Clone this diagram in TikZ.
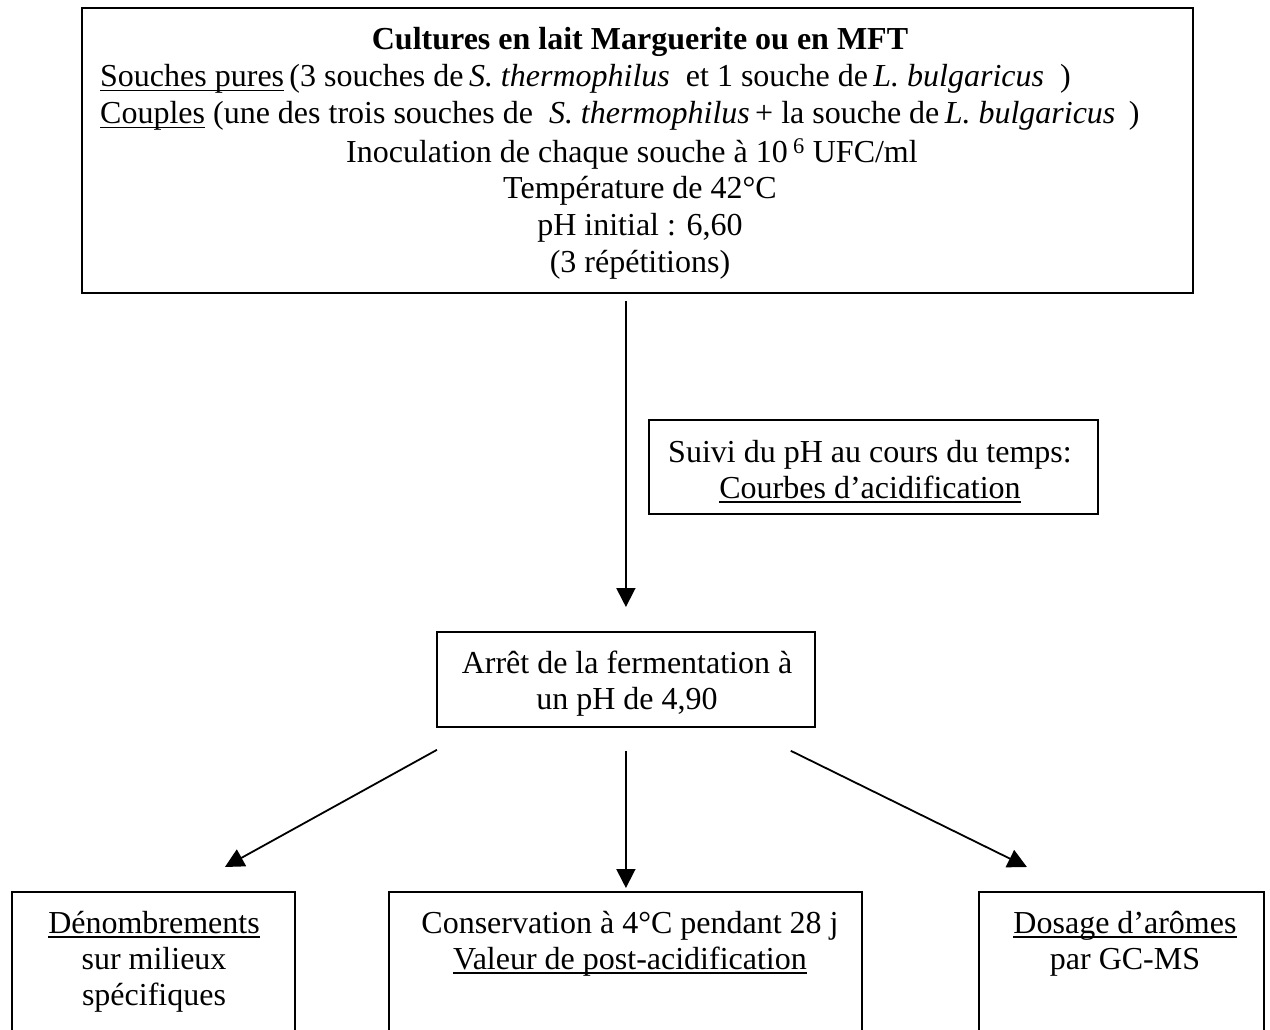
\documentclass[tikz,border=0pt]{standalone}
\usepackage{fontspec}
\setmainfont{Liberation Serif}
\usetikzlibrary{arrows.meta}
\newcommand\myul[1]{\setbox0=\hbox{#1}\rlap{\rule[-4.5pt]{\wd0}{1.6pt}}\box0\relax}
\begin{document}
\begin{tikzpicture}[x=1pt,y=-1pt,
  box/.style={draw, line width=1.8pt, inner sep=0pt, anchor=north west},
  txt/.style={inner sep=0pt, anchor=base, font=\fontsize{32}{37}\selectfont},
  txtl/.style={txt, anchor=base west},
  arr/.style={line width=1.8pt, -{Triangle[length=19pt,width=19pt]}}]
\useasboundingbox (0,0) rectangle (1270,1030);
\clip (0,0) rectangle (1270,1030);

% boxes
\node[box, minimum width=1111pt, minimum height=285pt] (top) at (81,7) {};
\node[box, minimum width=449pt, minimum height=94pt] (suivi) at (648,419) {};
\node[box, minimum width=378pt, minimum height=95pt] (arret) at (436,631) {};
\node[box, minimum width=283pt, minimum height=220pt] (den) at (11,891) {};
\node[box, minimum width=473pt, minimum height=220pt] (cons) at (388,891) {};
\node[box, minimum width=285pt, minimum height=220pt] (dos) at (978,891) {};

% top box text
\node[txt, font=\fontsize{32}{37}\selectfont\bfseries] (t1) at (640,50) {Cultures en lait Marguerite ou en MFT};
\node[txtl] (t2) at (100,87) {\myul{Souches pures}\,(3 souches de\,\textit{S. thermophilus}\ \ et 1 souche de\,\textit{L. bulgaricus}\ \ )};
\node[txtl] (t3) at (100,124) {\myul{Couples} (une des trois souches de\ \ \textit{S. thermophilus}\,+ la souche de\,\textit{L. bulgaricus}\ \,)};
\node[txt] (t4) at (632,163) {Inoculation de chaque souche à 10\,\textsuperscript{6} UFC/ml};
\node[txt] (t5) at (640,199) {Température de 42°C};
\node[txt] (t6) at (640,236) {pH initial : 6,60};
\node[txt] (t7) at (640,272) {(3 répétitions)};

% suivi text
\node[txt] (s1) at (870,462) {Suivi du pH au cours du temps:};
\node[txt] (s2) at (870,498) {\myul{Courbes d’acidification}};

% arret text
\node[txt] (a1) at (627,673) {Arrêt de la fermentation à};
\node[txt] (a2) at (627,709) {un pH de 4,90};

% bottom texts
\node[txt] (d1) at (154,933) {\myul{Dénombrements}};
\node[txt] (d2) at (154,969) {sur milieux};
\node[txt] (d3) at (154,1005) {spécifiques};
\node[txt] (c1) at (630,933) {Conservation à 4°C pendant 28 j};
\node[txt] (c2) at (630,969) {\myul{Valeur de post-acidification}};
\node[txt] (g1) at (1125,933) {\myul{Dosage d’arômes}};
\node[txt] (g2) at (1125,969) {par GC-MS};

% connectors
\draw[arr] ([yshift=-7pt]top.south -| arret.north) -- ([yshift=24pt]arret.north);
\draw[arr] ([xshift=1pt,yshift=-22pt]arret.south west) -- ([xshift=71.5pt,yshift=24pt]den.north);
\draw[arr] ([yshift=-23pt]arret.south) -- ([yshift=3pt]cons.north -| arret.south);
\draw[arr] ([xshift=-25pt,yshift=-23pt]arret.south east) -- ([xshift=-94.5pt,yshift=24pt]dos.north);
\end{tikzpicture}
\end{document}
